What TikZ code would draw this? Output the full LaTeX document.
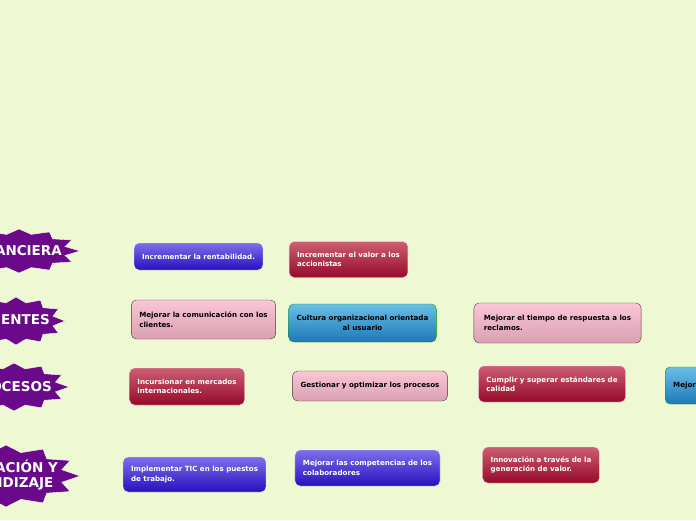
\documentclass[tikz,border=0pt]{standalone}
\usepackage{fontspec}
\setmainfont{DejaVu Sans}
\usetikzlibrary{positioning}
\definecolor{bgcol}{RGB}{238,248,210}
\definecolor{topicpurple}{RGB}{106,10,138}
\definecolor{bluetop}{RGB}{124,112,234}
\definecolor{bluebot}{RGB}{42,14,190}
\definecolor{redtop}{RGB}{204,94,116}
\definecolor{redbot}{RGB}{150,10,40}
\definecolor{pinktop}{RGB}{250,198,214}
\definecolor{pinkbot}{RGB}{218,160,178}
\definecolor{cyantop}{RGB}{104,192,232}
\definecolor{cyanbot}{RGB}{30,120,182}
\tikzset{
  pics/burst/.style 2 args={code={
    \path[fill=topicpurple, draw=white, thin]
      (0:#1pt and #2pt)
      \foreach \k [evaluate=\k as \r using {mod(\k,2)==0 ? 1 : 0.78}] in {1,...,23}
        { -- ({\k*15}:{\r*#1pt} and {\r*#2pt}) } -- cycle;
  }}
}
\tikzset{
  topiclabel/.style={text=white, align=center, inner sep=0pt, anchor=east,
    font=\fontsize{13.5}{15}\selectfont\bfseries}
}
\tikzset{
  goal/.style={rounded corners=5pt, inner xsep=8pt, inner ysep=3pt,
    minimum height=36pt, align=left, font=\fontsize{7.1}{9.5}\selectfont\bfseries},
  bluegoal/.style={goal, top color=bluetop, bottom color=bluebot, draw=white!80!bluetop, text=white},
  redgoal/.style={goal, top color=redtop, bottom color=redbot, draw=white!75!redtop, text=white},
  pinkgoal/.style={goal, top color=pinktop, bottom color=pinkbot, draw=black!75, text=black},
  cyangoal/.style={goal, top color=cyantop, bottom color=cyanbot, draw=green!60!black, text=black}
}

\begin{document}
\begin{tikzpicture}[x=1pt, y=-1pt]
  \fill[bgcol] (0,0) rectangle (696,520);
  \useasboundingbox (0,0) rectangle (696,520);
  \clip (0,0) rectangle (696,520);

  \pic at (19,251) {burst={61}{22}};
  \node[topiclabel] (fin) at (62,250.5) {FINANCIERA};
  \pic at (16,321) {burst={49}{24}};
  \node[topiclabel] (cli) at (50,320) {CLIENTES};
  \pic at (14,387) {burst={55}{24}};
  \node[topiclabel] (pro) at (52,387) {PROCESOS};
  \pic at (6,476) {burst={74}{31}};
  \node[topiclabel] (inn) at (58,475) {INNOVACIÓN Y\\APRENDIZAJE};

  \node[bluegoal, minimum height=27pt, align=center] (rent) at (198.5,256.5) {Incrementar la rentabilidad.};
  \node[redgoal] (accion) at (348.5,259.5) {Incrementar el valor a los\\accionistas};

  \node[pinkgoal, minimum height=39pt] (comm) at (203.5,319.5) {Mejorar la comunicación con los\\clientes.};
  \node[cyangoal, minimum height=38pt, align=center] (cultura) at (362.5,323) {Cultura organizacional orientada\\al usuario};
  \node[pinkgoal, minimum height=40pt, inner xsep=10pt] (reclamos) at (557.5,323) {Mejorar el tiempo de respuesta a los\\reclamos.};

  \node[redgoal, minimum height=37pt] (mercados) at (187,386.5) {Incursionar en mercados\\internacionales.};
  \node[pinkgoal, minimum height=30pt, align=center] (gestion) at (370,386) {Gestionar y optimizar los procesos};
  \node[redgoal] (calidad) at (552,384) {Cumplir y superar estándares de\\calidad};
  \node[cyangoal, minimum height=37pt, anchor=west] (mejor) at (665,385.5) {Mejor};

  \node[bluegoal, minimum height=35pt] (tic) at (194.5,474.5) {Implementar TIC en los puestos\\de trabajo.};
  \node[bluegoal] (compet) at (367.5,468) {Mejorar las competencias de los\\colaboradores};
  \node[redgoal] (valor) at (541,465) {Innovación a través de la\\generación de valor.};
\end{tikzpicture}
\end{document}
